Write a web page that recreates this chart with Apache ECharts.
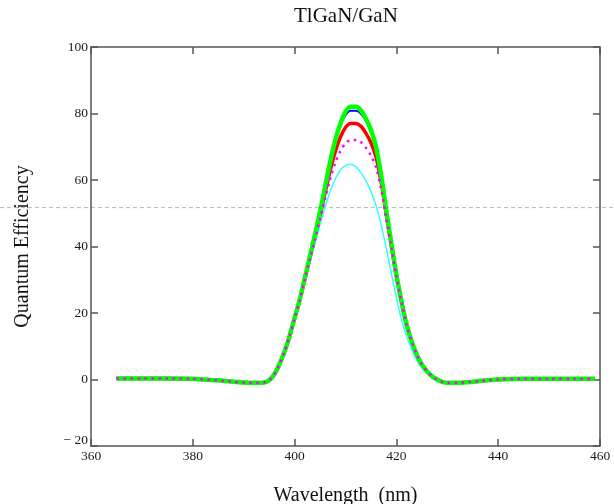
<!DOCTYPE html>
<html>
<head>
<meta charset="utf-8">
<script src="https://cdn.jsdelivr.net/npm/echarts@6/dist/echarts.min.js"></script>
<style>
html, body { margin: 0; padding: 0; background: #fff; }
#main { width: 614px; height: 504px; }
</style>
</head>
<body>
<div id="main"></div>
<script>
// wavelengths (nm): flat left tail, peak region at 1 nm steps, right tail
var wlLeft = [365, 370, 375, 380, 382, 384, 386, 388, 390, 392, 393, 394];
var wlPeak = [395, 396, 397, 398, 399, 400, 401, 402, 403, 404, 405, 406, 407, 408, 409, 410, 411,
  412, 413, 414, 415, 416, 417, 418, 419, 420, 421, 422, 423, 424, 425, 426, 427, 428];
var wlRight = [429, 430, 432, 434, 436, 438, 440, 445, 450, 455, 459];

// tails are the same for every curve
var qeLeft = [0.3, 0.3, 0.3, 0.2, 0, -0.2, -0.4, -0.7, -0.9, -1, -1, -0.9];
var qeRight = [-0.7, -1, -1, -0.8, -0.5, -0.2, 0, 0.2, 0.2, 0.2, 0.2];

// peak part of each curve
var qeGreen = [-0.2, 1.5, 4.5, 8.3, 13, 18.5, 24, 30.5, 37, 43.5, 50.5, 58, 65.5, 72, 77, 80.5, 82,
  82, 81, 78.5, 75, 70, 61.5, 51, 41, 31.5, 23.5, 16.5, 11.5, 7.5, 4.5, 2.5, 1, 0];
var qeBlue = [-0.2, 1.5, 4.5, 8.3, 13, 18.5, 24, 30.5, 37, 43.5, 50.5, 58, 65.5, 72, 76.5, 79.5, 80.8,
  80.8, 80, 77.8, 74.5, 70, 61.5, 51, 41, 31.5, 23.5, 16.5, 11.5, 7.5, 4.5, 2.5, 1, 0];
var qeRed = [-0.2, 1.5, 4.5, 8.3, 13, 18.4, 23.9, 30.2, 36.5, 42.8, 49.3, 56.2, 62.9, 68.6, 72.9, 75.8, 77,
  77, 76.2, 74.1, 71.2, 66.9, 59.4, 49.8, 40.4, 31.2, 23.4, 16.4, 11.5, 7.5, 4.5, 2.5, 1, 0];
var qeMagenta = [-0.2, 1.5, 4.5, 8.3, 13, 18.4, 23.8, 30, 36.1, 42, 48.2, 54.5, 60.4, 65.2, 68.7, 71, 72,
  72, 71.4, 69.7, 67.3, 63.8, 57.3, 48.6, 39.7, 30.9, 23.3, 16.4, 11.4, 7.5, 4.5, 2.5, 1, 0];
var qeCyan = [-0.2, 1.5, 4.5, 8.3, 12.9, 18.3, 23.6, 29.6, 35.4, 40.9, 46.5, 51.9, 56.7, 60.3, 63, 64.3, 64.7,
  64, 62.3, 59.8, 56.5, 52.3, 46.5, 39.5, 32, 24.5, 18, 13, 9, 5.8, 3.5, 1.8, 0.7, 0];

// level of the grey dashed guide line
var guideLevel = 51.7;

var xTicks = { min: 360, max: 460, interval: 20 };
var yTicks = { min: -20, max: 100, interval: 20 };

function curve(peak) {
  var wl = wlLeft.concat(wlPeak, wlRight);
  var qe = qeLeft.concat(peak, qeRight);
  return wl.map(function (w, i) { return [w, qe[i]]; });
}

var serif = "'Liberation Serif', 'Times New Roman', serif";
var frame = { color: '#555', width: 1.5 };

function xAx(pos, main) {
  return {
    type: 'value', position: pos, min: xTicks.min, max: xTicks.max, interval: xTicks.interval,
    axisLine: { show: true, onZero: false, lineStyle: frame },
    axisTick: { show: true, inside: true, length: 7, lineStyle: frame },
    axisLabel: { show: main, fontFamily: serif, fontSize: 13.5, color: '#1a1a1a', margin: 3 },
    splitLine: { show: false },
    name: main ? 'Wavelength  (nm)' : '',
    nameLocation: 'middle', nameGap: 40,
    nameTextStyle: { fontFamily: serif, fontSize: 20, color: '#111' }
  };
}
function yAx(pos, main) {
  return {
    type: 'value', position: pos, min: yTicks.min, max: yTicks.max, interval: yTicks.interval,
    axisLine: { show: true, onZero: false, lineStyle: frame },
    axisTick: { show: true, inside: true, length: 7, lineStyle: frame },
    axisLabel: {
      show: main, fontFamily: serif, fontSize: 13.5, color: '#1a1a1a', margin: 3,
      // the negative label sits a little above its tick in the original
      formatter: function (v) { return v < 0 ? '{neg|\u2212 ' + (-v) + '}' : '' + v; },
      rich: { neg: { fontFamily: serif, fontSize: 13.5, color: '#1a1a1a', padding: [0, 0, 12, 0] } }
    },
    splitLine: { show: false },
    name: main ? 'Quantum Efficiency' : '',
    nameLocation: 'middle', nameGap: 58,
    nameTextStyle: { fontFamily: serif, fontSize: 20, color: '#111' }
  };
}

function line(data, color, width, type) {
  return {
    type: 'line', data: data, showSymbol: false, smooth: 0.3,
    lineStyle: { color: color, width: width, type: type || 'solid' },
    itemStyle: { color: color }
  };
}

var myChart = echarts.init(document.getElementById('main'));
option = {
  animation: false,
  title: {
    text: 'TlGaN/GaN', left: 289, top: 1,
    textStyle: { fontFamily: serif, fontSize: 21, fontWeight: 'normal', color: '#111' }
  },
  grid: { left: 91, right: 14, top: 47, bottom: 58, outerBoundsMode: 'none', containLabel: false },
  xAxis: [xAx('bottom', true), xAx('top', false)],
  yAxis: [yAx('left', true), yAx('right', false)],
  series: [
    line(curve(qeBlue), '#0000ff', 2),
    line(curve(qeRed), '#ff0000', 3.5),
    line(curve(qeCyan), '#33ffff', 1.5),
    line(curve(qeGreen), '#00ff00', 4.5),
    line(curve(qeMagenta), '#ff00ff', 2.5, [2.5, 4.5])
  ]
};
myChart.setOption(option);

// dashed guide line runs across the whole picture
var gy = myChart.convertToPixel({ yAxisIndex: 0 }, guideLevel);
myChart.setOption({
  graphic: [{
    type: 'line', silent: true, z: 0,
    shape: { x1: 0, y1: gy, x2: 614, y2: gy },
    style: { stroke: '#b8b8b8', lineWidth: 1, lineDash: [4, 3] }
  }]
});
</script>
</body>
</html>
